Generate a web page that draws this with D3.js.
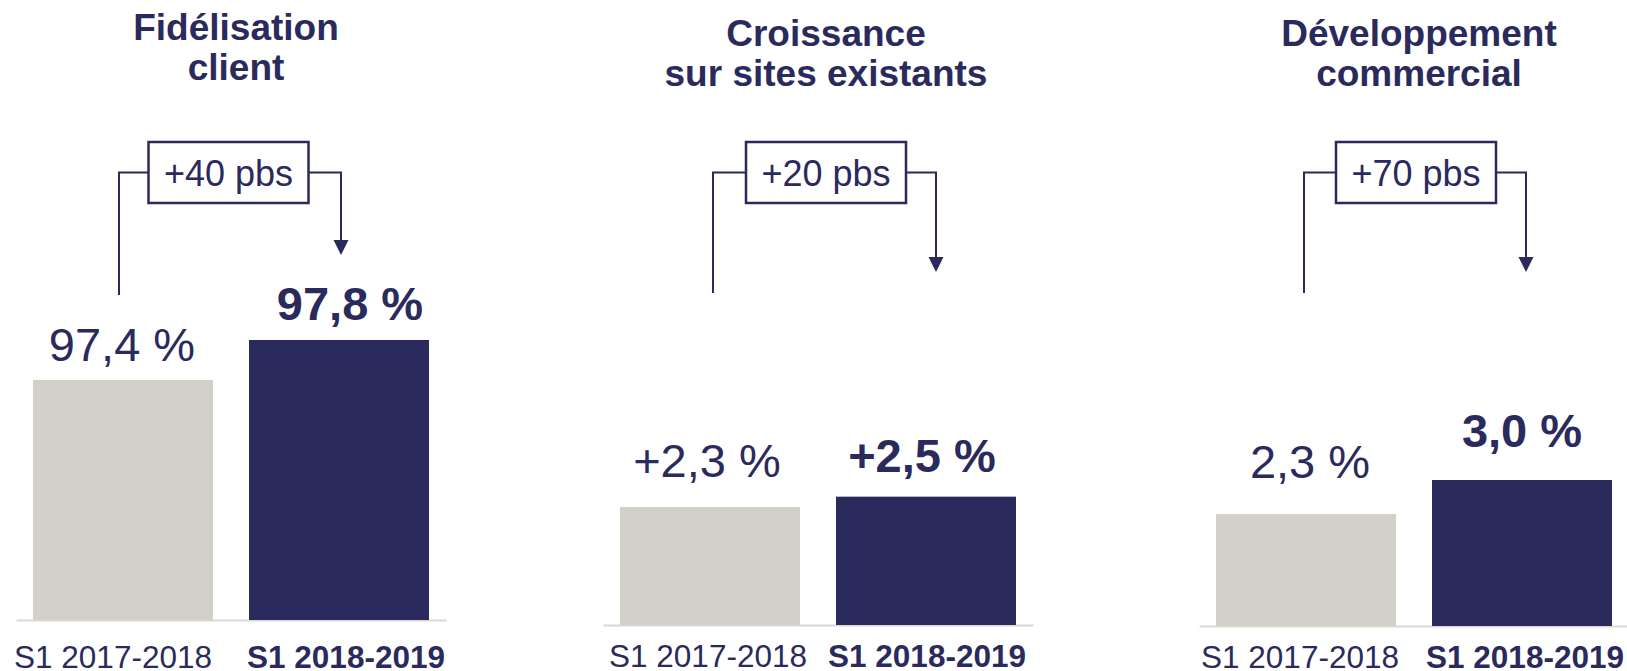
<!DOCTYPE html>
<html lang="fr">
<head>
<meta charset="utf-8">
<title>Indicateurs S1 2018-2019</title>
<script src="https://cdn.jsdelivr.net/npm/d3@7"></script>
<style>
    html, body { margin: 0; padding: 0; background: #ffffff; }
    #chart { width: 1627px; height: 671px; }
</style>
</head>
<body>
<div id="chart"></div>
<script>
(function() {
    const COLORS = {
        navy: "#2b2a5c",
        prev: "#d3d0c9",
        axis: "#dcd9d3",
        bg: "#ffffff"
    };
    const FONT = "'Liberation Sans', Arial, sans-serif";

    // --- Data
    const categories = ["S1 2017-2018", "S1 2018-2019"];
    const titles = [
        ["Fidélisation", "client"],
        ["Croissance", "sur sites existants"],
        ["Développement", "commercial"]
    ];
    const valuesPrev = [97.4, 2.3, 2.3];
    const valuesCurr = [97.8, 2.5, 3.0];
    const labelsPrev = ["97,4 %", "+2,3 %", "2,3 %"];
    const labelsCurr = ["97,8 %", "+2,5 %", "3,0 %"];
    const deltaLabels = ["+40 pbs", "+20 pbs", "+70 pbs"];

    // --- Layout of each panel (positions only)
    const layout = [
        { left: 16,   width: 430, base: 620, domain: [95, 98], top: 320, titleX: 236,  titleY: 40,
          boxX: 228.5, legDx: [-4, 2],  legBottom: 295, arrowTip: 255, gap: [19, 20], dx: [-1, 11],  catY: 668, catDx: [-10, 7] },
        { left: 603,  width: 430, base: 625, domain: [0, 3],   top: 471, titleX: 826,  titleY: 46,
          boxX: 826,   legDx: [3, 10],  legBottom: 293, arrowTip: 272, gap: [30, 25], dx: [-3, -4], catY: 667, catDx: [-2, 1] },
        { left: 1199, width: 430, base: 626, domain: [0, 3],   top: 480, titleX: 1419, titleY: 46,
          boxX: 1416,  legDx: [-2, 4],  legBottom: 293, arrowTip: 272, gap: [36, 33], dx: [4, 0],   catY: 668, catDx: [-6, 3] }
    ];

    const svg = d3.select("#chart").append("svg")
        .attr("width", 1627)
        .attr("height", 671)
        .attr("viewBox", "0 0 1627 671");

    svg.append("rect").attr("width", 1627).attr("height", 671).attr("fill", COLORS.bg);

    layout.forEach((L, i) => {
        const g = svg.append("g").attr("class", "panel-" + i);

        const x = d3.scaleBand()
            .domain(categories)
            .range([L.left, L.left + L.width])
            .paddingInner(0.1667)
            .paddingOuter(0.0787);

        const y = d3.scaleLinear()
            .domain(L.domain)
            .range([L.base, L.top]);

        const values = [valuesPrev[i], valuesCurr[i]];
        const labels = [labelsPrev[i], labelsCurr[i]];
        const rows = categories.map((c, k) => ({ cat: c, value: values[k], label: labels[k], k }));

        // Title
        g.append("text")
            .attr("x", L.titleX)
            .attr("y", L.titleY)
            .attr("text-anchor", "middle")
            .attr("font-family", FONT)
            .attr("font-weight", "bold")
            .attr("font-size", 37)
            .attr("fill", COLORS.navy)
            .selectAll("tspan")
            .data(titles[i])
            .join("tspan")
            .attr("x", L.titleX)
            .attr("dy", (d, j) => j === 0 ? 0 : 40)
            .text(d => d);

        // Axis baseline with category labels
        const axis = g.append("g")
            .attr("transform", `translate(0,${L.base})`)
            .call(d3.axisBottom(x).tickSize(0).tickSizeOuter(0));

        axis.select(".domain")
            .attr("stroke", COLORS.axis)
            .attr("stroke-width", 2);

        axis.selectAll(".tick text")
            .attr("font-family", FONT)
            .attr("font-size", 31.5)
            .attr("fill", COLORS.navy)
            .attr("font-weight", (d, k) => k === 1 ? "bold" : "normal")
            .attr("dy", null)
            .attr("x", (d, k) => L.catDx[k])
            .attr("y", L.catY - L.base);

        // Bars
        g.selectAll("rect.bar")
            .data(rows)
            .join("rect")
            .attr("class", "bar")
            .attr("x", d => x(d.cat))
            .attr("width", x.bandwidth())
            .attr("y", d => y(d.value))
            .attr("height", d => L.base - y(d.value))
            .attr("fill", d => d.k === 0 ? COLORS.prev : COLORS.navy);

        // Value labels
        g.selectAll("text.value")
            .data(rows)
            .join("text")
            .attr("class", "value")
            .attr("x", d => x(d.cat) + x.bandwidth() / 2 + L.dx[d.k])
            .attr("y", d => y(d.value) - L.gap[d.k])
            .attr("text-anchor", "middle")
            .attr("font-family", FONT)
            .attr("font-size", 47)
            .attr("font-weight", d => d.k === 1 ? "bold" : "normal")
            .attr("fill", COLORS.navy)
            .text(d => d.label);

        // Bracket with delta box
        const c0 = x(categories[0]) + x.bandwidth() / 2 + L.legDx[0];
        const c1 = x(categories[1]) + x.bandwidth() / 2 + L.legDx[1];
        const boxW = 160, boxH = 61, boxTop = 142;
        const midY = boxTop + boxH / 2;
        const bx0 = L.boxX - boxW / 2, bx1 = L.boxX + boxW / 2;
        const head = 15;

        g.append("path")
            .attr("d", `M${c0},${L.legBottom}V${midY}H${bx0}M${bx1},${midY}H${c1}V${L.arrowTip - head + 1}`)
            .attr("fill", "none")
            .attr("stroke", COLORS.navy)
            .attr("stroke-width", 2);

        g.append("path")
            .attr("d", `M${c1 - 7.5},${L.arrowTip - head}L${c1 + 7.5},${L.arrowTip - head}L${c1},${L.arrowTip}Z`)
            .attr("fill", COLORS.navy);

        g.append("rect")
            .attr("x", bx0)
            .attr("y", boxTop)
            .attr("width", boxW)
            .attr("height", boxH)
            .attr("fill", COLORS.bg)
            .attr("stroke", COLORS.navy)
            .attr("stroke-width", 2.5);

        g.append("text")
            .attr("x", L.boxX)
            .attr("y", boxTop + 44)
            .attr("text-anchor", "middle")
            .attr("font-family", FONT)
            .attr("font-size", 36)
            .attr("fill", COLORS.navy)
            .text(deltaLabels[i]);
    });
})();
</script>
</body>
</html>
